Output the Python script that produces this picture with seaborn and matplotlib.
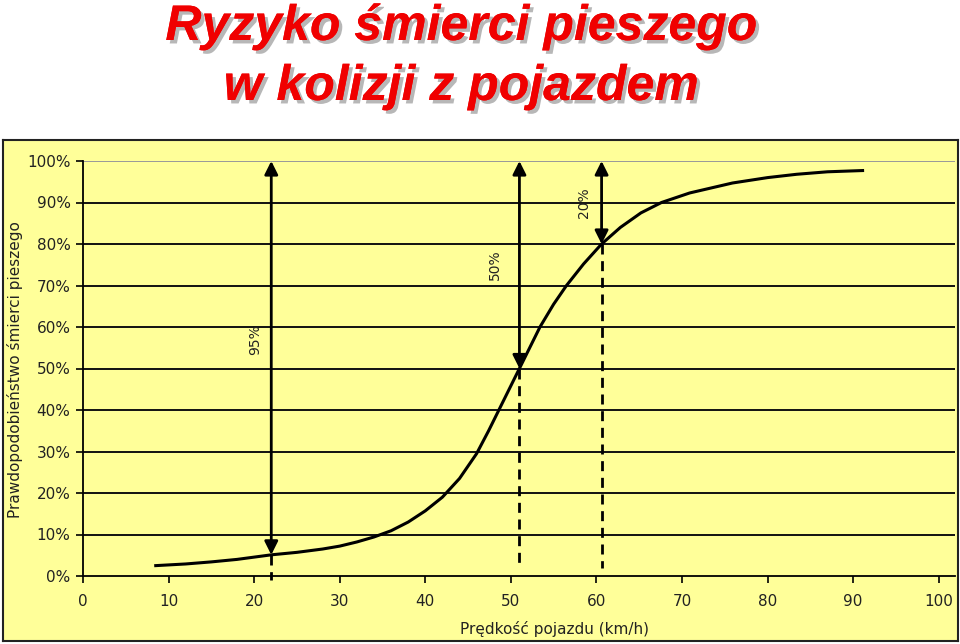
import matplotlib
matplotlib.use("Agg")
import matplotlib.pyplot as plt
import matplotlib.patheffects as pe
import seaborn as sns
import pandas as pd

# ---- data ----
speed = [8.5, 12, 15, 18, 22, 25, 28, 30, 32, 34, 36, 38, 40, 42, 44, 46,
         47.4, 48.6, 49.8, 51, 52.2, 53.4, 55, 56.5, 58.5, 60.6, 62.8, 65.2,
         67.6, 70.9, 75.9, 80, 83.4, 87, 91.1]
prob = [0.025, 0.029, 0.034, 0.040, 0.051, 0.057, 0.065, 0.072, 0.082, 0.094,
        0.109, 0.130, 0.157, 0.190, 0.235, 0.295, 0.35, 0.40, 0.45, 0.50, 0.55,
        0.60, 0.655, 0.70, 0.752, 0.80, 0.84, 0.875, 0.90, 0.923, 0.947, 0.960,
        0.968, 0.974, 0.977]
arrow_x = [22, 51, 60.6]
arrow_low = [0.051, 0.50, 0.80]
arrow_top = 1.0
arrow_labels = ["95%", "50%", "20%"]
label_x = [20.1, 48.1, 58.6]
label_y = [0.57, 0.75, 0.90]
dash_end = [-0.01, 0.02, 0.02]
x_ticks = [0, 10, 20, 30, 40, 50, 60, 70, 80, 90, 100]
y_ticks = [0, 0.1, 0.2, 0.3, 0.4, 0.5, 0.6, 0.7, 0.8, 0.9, 1.0]
y_tick_labels = ["0%", "10%", "20%", "30%", "40%", "50%", "60%", "70%", "80%", "90%", "100%"]
title_lines = ["Ryzyko śmierci pieszego", "w kolizji z pojazdem"]
x_label = "Prędkość pojazdu (km/h)"
y_label = "Prawdopodobieństwo śmierci pieszego"

df = pd.DataFrame({"speed": speed, "prob": prob})

W, H = 960, 644
fig = plt.figure(figsize=(W / 100, H / 100), dpi=100)
fig.patch.set_facecolor("white")

yellow = "#FFFF99"
# panel as a background axes
bg = fig.add_axes([3 / W, 1 - 641 / H, (958 - 3) / W, (641 - 140) / H], zorder=0)
bg.set_facecolor(yellow)
bg.set_xticks([])
bg.set_yticks([])
for s in bg.spines.values():
    s.set_color("#222222")
    s.set_linewidth(1.5)

ax = fig.add_axes([83 / W, 1 - 576 / H, (955 - 83) / W, (576 - 161) / H], zorder=1)
ax.set_facecolor("none")

sns.lineplot(data=df, x="speed", y="prob", ax=ax, color="black", lw=2.2, zorder=5)

ax.set_xlim(0, 101.9)
ax.set_ylim(0, 1.0)
ax.set_xticks(x_ticks)
ax.set_xticklabels([str(t) for t in x_ticks])
ax.set_yticks(y_ticks)
ax.set_yticklabels(y_tick_labels)
for t in y_ticks[1:]:
    ax.axhline(t, color="#999999" if t == 1.0 else "#111111", lw=1.4, zorder=1)

for s in ["top", "right"]:
    ax.spines[s].set_visible(False)
ax.spines["left"].set_color("black")
ax.spines["bottom"].set_color("black")
ax.spines["left"].set_linewidth(1.3)
ax.spines["bottom"].set_linewidth(1.3)
ax.tick_params(axis="both", direction="out", length=5, width=1.2, colors="black",
               labelsize=11, labelcolor="#222222")
ax.tick_params(axis="x", pad=8)
ax.tick_params(axis="y", pad=4)
ax.set_xlabel("")
ax.set_ylabel("")

# arrows
for xv, lo, lab, de, lx, ly in zip(arrow_x, arrow_low, arrow_labels, dash_end,
                                   label_x, label_y):
    ax.annotate("", xy=(xv, arrow_top), xytext=(xv, lo),
                arrowprops=dict(arrowstyle="<|-|>", mutation_scale=20, lw=2,
                                color="black", shrinkA=0, shrinkB=0),
                zorder=6, annotation_clip=False)
    ax.plot([xv, xv], [lo, de], color="black", lw=2, ls=(0, (3.6, 2.4)),
            zorder=6, clip_on=False)
    ax.text(lx, ly, lab, rotation=90, ha="center", va="center", fontsize=10,
            color="#222222", zorder=6)

fig.text(554 / W, 1 - 629 / H, x_label, ha="center", va="center", fontsize=11,
         color="#222222", zorder=3)
fig.text(15 / W, 1 - 370 / H, y_label, ha="center", va="center", rotation=90,
         fontsize=11, color="#222222", zorder=3)

# title
shadow = [pe.withSimplePatchShadow(offset=(2.5, -2.5), shadow_rgbFace="#999999",
                                   alpha=0.7), pe.Normal()]
for line, base in zip(title_lines, [40, 100]):
    fig.text(461 / W, 1 - base / H, line, ha="center", va="baseline",
             fontsize=36, fontweight="bold", fontstyle="italic",
             family=["Liberation Sans", "DejaVu Sans"], color="#F00000",
             path_effects=shadow)

fig.savefig("out.png", dpi=100, facecolor="white")
